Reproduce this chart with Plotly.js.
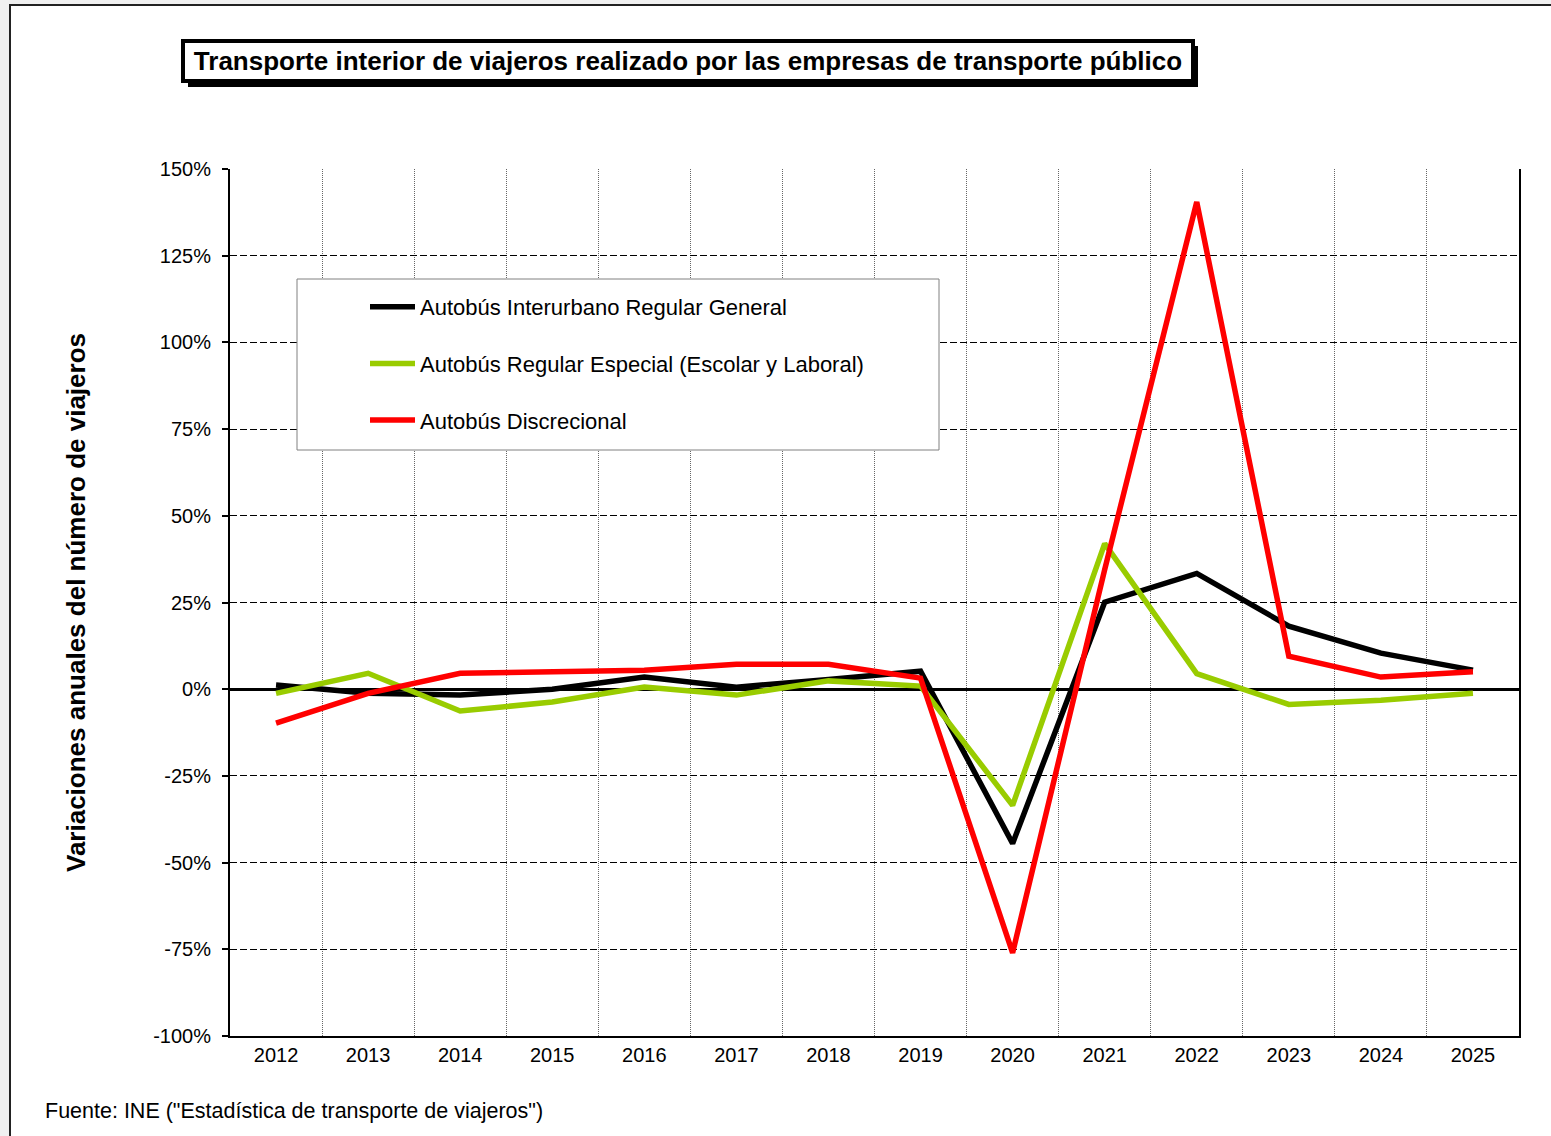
<!DOCTYPE html>
<html>
<head>
<meta charset="utf-8">
<script src="https://cdn.plot.ly/plotly-3.0.1.min.js"></script>
<style>
html,body{margin:0;padding:0;background:#f0f0f0;}
#chart{width:1551px;height:1136px;}
</style>
</head>
<body>
<div id="chart"></div>
<script>
// ---- data ----
const years = [2012,2013,2014,2015,2016,2017,2018,2019,2020,2021,2022,2023,2024,2025];
const interurbano = [1.2,-1.2,-1.7,0.0,3.5,0.6,2.8,5.2,-44.5,25.1,33.4,18.2,10.4,5.5];
const especial    = [-1.2,4.6,-6.3,-3.7,0.6,-1.7,2.4,0.9,-33.5,42.0,4.5,-4.4,-3.2,-1.2];
const discrecional= [-9.8,-1.2,4.6,5.0,5.5,7.2,7.2,3.2,-76.0,34.5,140.5,9.5,3.5,5.0];
const seriesNames = ["Autobús Interurbano Regular General","Autobús Regular Especial (Escolar y Laboral)","Autobús Discrecional"];
const seriesColors = ["#000000","#99cc00","#ff0000"];
const yTicks = [-100,-75,-50,-25,0,25,50,75,100,125,150];
const titleText = "Transporte interior de viajeros realizado por las empresas de transporte público";
const yTitle = "Variaciones anuales del número de viajeros";
const sourceText = 'Fuente: INE ("Estadística de transporte de viajeros")';

// ---- layout geometry (pixels) ----
const W = 1551, H = 1136;
const L = 230, R = 1519, T = 169, B = 1036;
const px = x => (x - L) / (R - L);
const py = y => (B - y) / (B - T);
const FONT = "Liberation Sans, Arial, Helvetica, sans-serif";

const seriesData = [interurbano, especial, discrecional];
const traces = seriesData.map((vals, i) => ({
  x: years, y: vals, type: 'scatter', mode: 'lines',
  name: seriesNames[i], legendgroup: 'g' + i,
  line: {color: seriesColors[i], width: 5.5}
}));

const layout = {
  width: W, height: H,
  margin: {l: L, r: W - R, t: T, b: H - B, pad: 0},
  paper_bgcolor: '#f0f0f0',
  plot_bgcolor: '#ffffff',
  showlegend: true,
  title: {
    text: '<b>' + titleText + '</b>',
    font: {family: FONT, size: 26, color: '#000'},
    xref: 'paper', x: px(688), xanchor: 'center',
    yref: 'container', y: 1 - 61 / H, yanchor: 'middle'
  },
  xaxis: {
    range: [2011.5, 2025.5],
    tickmode: 'array', tickvals: years, ticktext: years.map(String),
    showgrid: false, zeroline: false,
    showline: true, linecolor: '#000', linewidth: 2,
    ticks: '', ticklabelstandoff: 0,
    tickfont: {family: FONT, size: 20, color: '#000'},
    minor: {tick0: 2011.5, dtick: 1, showgrid: true, gridcolor: '#666', gridwidth: 1, griddash: '1px,1px', ticks: ''}
  },
  yaxis: {
    range: [-100, 150],
    tickmode: 'array', tickvals: yTicks, ticktext: yTicks.map(v => v + '%'),
    showgrid: true, gridcolor: '#000', gridwidth: 1, griddash: '7px,3px',
    zeroline: true, zerolinecolor: '#000', zerolinewidth: 3,
    showline: true, linecolor: '#000', linewidth: 2, mirror: true,
    ticks: 'outside', ticklen: 6, tickwidth: 2, tickcolor: '#000',
    ticklabelstandoff: 7,
    tickfont: {family: FONT, size: 20, color: '#000'},
    title: {text: '<b>' + yTitle + '</b>', font: {family: FONT, size: 26, color: '#000'}, standoff: 60}
  },
  legend: {
    x: px(365), xanchor: 'left', xref: 'paper',
    y: py(286), yanchor: 'top', yref: 'paper',
    bgcolor: 'rgba(0,0,0,0)', borderwidth: 0,
    font: {family: FONT, size: 22, color: '#000'},
    itemwidth: 45,
    tracegroupgap: 25, itemclick: false, itemdoubleclick: false
  },
  shapes: [
    // outer frame
    {type: 'rect', xref: 'paper', yref: 'paper', x0: px(10), x1: px(1600), y0: py(5), y1: py(1200),
     fillcolor: '#ffffff', line: {color: '#222', width: 2}, layer: 'below'},
    // title shadow
    {type: 'rect', xref: 'paper', yref: 'paper', x0: px(188), x1: px(1198), y0: py(46), y1: py(87),
     fillcolor: '#000', line: {width: 0}, layer: 'above'},
    // title box
    {type: 'rect', xref: 'paper', yref: 'paper', x0: px(183), x1: px(1193), y0: py(41), y1: py(81),
     fillcolor: '#ffffff', line: {color: '#000', width: 4}, layer: 'above'},
    // legend box
    {type: 'rect', xref: 'paper', yref: 'paper', x0: px(297), x1: px(939), y0: py(279), y1: py(450),
     fillcolor: '#ffffff', line: {color: '#808080', width: 1}, layer: 'above'}
  ],
  annotations: [
    {text: sourceText, xref: 'paper', yref: 'paper', x: px(43), y: py(1111),
     xanchor: 'left', yanchor: 'middle', showarrow: false,
     font: {family: FONT, size: 21.5, color: '#000'}}
  ]
};

Plotly.newPlot('chart', traces, layout, {displayModeBar: false, staticPlot: true});
</script>
</body>
</html>
